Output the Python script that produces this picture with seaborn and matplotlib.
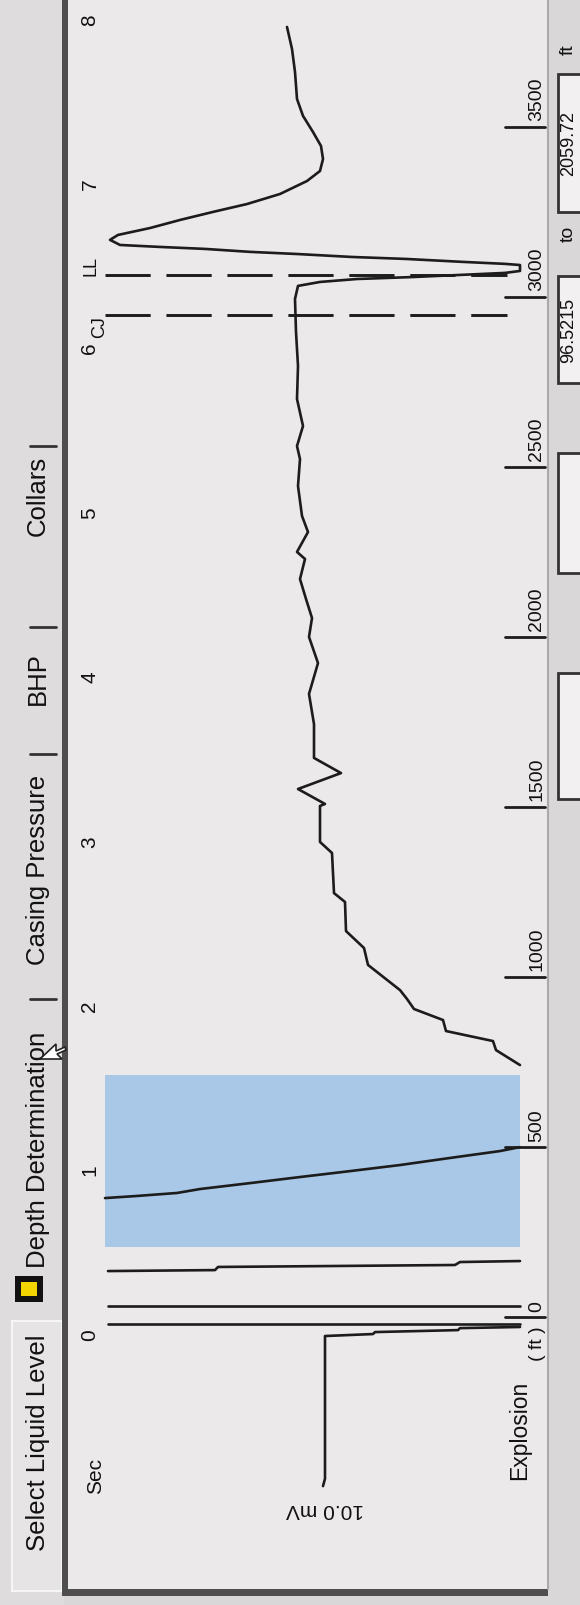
import pandas as pd
import matplotlib.pyplot as plt
from matplotlib.patches import Rectangle, Polygon
import seaborn as sns

sns.set_theme(style="white")
plt.rcParams['font.family'] = ['Liberation Sans', 'DejaVu Sans']

# values: time in sec, signal in mV
sec_ticks = [0, 1, 2, 3, 4, 5, 6, 7, 8]
depth_ticks = [0, 500, 1000, 1500, 2000, 2500, 3000, 3500]
tab_names = ['Select Liquid Level', 'Depth Determination', 'Casing Pressure', 'BHP', 'Collars']

# explosion: saturated sweeps across the trace area
shot1_t = [0.06, 0.06]
shot1_mv = [9.6, -11.0]
shot2_t = [0.17, 0.17]
shot2_mv = [9.6, -11.0]
shot3_t = [0.383, 0.389, 0.408, 0.420, 0.438, 0.444]
shot3_mv = [9.6, 4.25, 4.1, -7.75, -8.0, -11.0]

# signal inside the selected window
drop_t = [0.827, 0.839, 0.858, 0.882, 0.918, 0.955, 0.991, 1.028, 1.071, 1.113, 1.137]
drop_mv = [9.75, 8.25, 6.15, 5.0, 2.5, 0.0, -2.5, -5.0, -7.5, -10.0, -11.0]

# echo trace up to the liquid level kick and after it
echo_t = [1.636, 1.727, 1.782, 1.843, 1.910, 1.977, 2.038, 2.092, 2.245, 2.348,
          2.451, 2.628, 2.682, 2.926, 2.993, 3.212, 3.224, 3.315, 3.412, 3.504,
          3.710, 3.893, 4.081, 4.240, 4.355, 4.471, 4.592, 4.714, 4.757, 4.878,
          4.976, 5.158, 5.322, 5.401, 5.523, 5.687, 5.888, 6.095, 6.296, 6.375,
          6.399, 6.417, 6.429, 6.454, 6.466, 6.502, 6.509, 6.521, 6.539, 6.551,
          6.569, 6.582, 6.600, 6.612, 6.624, 6.655, 6.685, 6.727, 6.776, 6.825,
          6.873, 6.934, 7.013, 7.074, 7.147, 7.226, 7.311, 7.409, 7.512, 7.676,
          7.816, 7.950]
echo_mv = [-11.0, -9.8, -9.65, -7.3, -7.15, -5.7, -5.35, -5.0, -3.4, -3.2,
           -2.3, -2.25, -1.7, -1.6, -1.0, -1.0, -1.25, 0.1, -2.05, -0.7,
           -0.7, -0.45, -0.9, -0.45, -0.6, -0.3, 0.0, -0.25, 0.15, -0.4,
           -0.1, 0.1, 0.0, 0.15, -0.15, 0.15, 0.1, 0.2, 0.25, 0.1,
           -1.0, -2.85, -5.65, -10.25, -11.0, -11.0, -10.25, -8.15, -5.3, -2.6,
           0.15, 2.5, 4.75, 7.0, 9.0, 9.5, 9.1, 7.5, 6.0, 4.35,
           2.65, 1.0, -0.35, -1.0, -1.15, -1.05, -0.65, -0.15, 0.15, 0.25,
           0.4, 0.65]

# 10 mV scale bar
bar_t = [-0.925, -0.88, -0.012, 0.0, 0.012, 0.024, 0.036, 0.043]
bar_mv = [-1.15, -1.25, -1.25, -3.65, -3.75, -7.9, -8.0, -11.0]

# selected window and collar / liquid level markers
window_t = [0.53, 1.575]
window_mv = [9.75, -11.0]
marker_t = [6.44, 6.20]
marker_names = ['LL', 'CJ']

parts = [(shot1_t, shot1_mv), (shot2_t, shot2_mv), (shot3_t, shot3_mv),
         (drop_t, drop_mv), (echo_t, echo_mv), (bar_t, bar_mv)]
trace = pd.concat([pd.DataFrame({'t': t, 'mv': v, 'seg': i})
                   for i, (t, v) in enumerate(parts)], ignore_index=True)


def depth_to_t(d):
    return d / 483.5 + 0.103


fig = plt.figure(figsize=(5.8, 16.06), dpi=100)

# screen chrome in pixel units
ui = fig.add_axes([0, 0, 1, 1])
ui.set_xlim(0, 580)
ui.set_ylim(1606, 0)
ui.axis('off')
ui.add_patch(Rectangle((0, 0), 580, 1606, fc='#d9d7d8', ec='none'))
ui.add_patch(Rectangle((0, 0), 64, 1606, fc='#dedcdd', ec='none'))
ui.add_patch(Rectangle((12, 1322), 50, 270, fc='#e6e4e5', ec='#f6f6f6', lw=1.5))
ui.add_patch(Rectangle((68, 0), 480, 1590, fc='#ece9ea', ec='none'))
ui.add_patch(Rectangle((62, 0), 6, 1597, fc='#4e4e4e', ec='none'))
ui.add_patch(Rectangle((62, 1590), 486, 7, fc='#4e4e4e', ec='none'))
ui.add_patch(Rectangle((15, 1277), 28, 26, fc='#111111', ec='none'))
ui.add_patch(Rectangle((21, 1283), 16, 14, fc='#f2d400', ec='none'))

tab_y = [1443, 1150, 870, 679, 496]
for name, y in zip(tab_names, tab_y):
    ui.text(38, y, name, rotation=90, ha='center', va='center', fontsize=18.5, color='#111111')
for y in [1000, 755, 628, 447]:
    ui.plot([30, 56], [y, y], color='#333333', lw=2)

# mouse pointer resting on the Depth Determination tab
tip_x, tip_y = 40, 1060
arrow = [(0, 0), (0, 22), (5, 17), (9, 26), (12, 25), (8, 16), (15, 16)]
ui.add_patch(Polygon([(tip_x + dy, tip_y - dx) for dx, dy in arrow],
                     closed=True, fc='white', ec='#222222', lw=1.2, zorder=5))

# right side read-out boxes
ui.plot([548, 548], [0, 1590], color='#aaaaaa', lw=1.5)
for y0, y1, txt in [(75, 213, '2059.72'), (277, 384, '96.5215'), (454, 574, ''), (674, 800, '')]:
    ui.add_patch(Rectangle((558, y0), 30, y1 - y0, fc='#f2f0f1', ec='#333333', lw=2))
    if txt:
        ui.text(569, (y0 + y1) / 2, txt, rotation=90, ha='center', va='center', fontsize=13, color='#111111')
ui.text(568, 50, 'ft', rotation=90, ha='center', va='center', fontsize=14, color='#111111')
ui.text(568, 234, 'to', rotation=90, ha='center', va='center', fontsize=14, color='#111111')

# chart: signal (mV) across, time (sec) along the screen
ax = fig.add_axes([0, 0, 1, 1])
ax.patch.set_alpha(0)
ax.set_xlim(15, -14)
ax.set_ylim(-1.648, 8.12)
ax.axis('off')

ax.fill_betweenx(window_t, window_mv[0], window_mv[1], color='#a9c7e7', lw=0, zorder=1)
ax.hlines(marker_t, 9.75, -10.35, colors='#1c1c1c', lw=2.1, linestyles=(0, (15.5, 5.4)), zorder=2)
sns.lineplot(data=trace, x='mv', y='t', units='seg', estimator=None, sort=False,
             color='#1c1c1c', lw=1.9, ax=ax, zorder=3)

ax.text(10.2, -0.86, 'Sec', rotation=90, ha='center', va='center', fontsize=15, color='#111111')
for s in sec_ticks:
    ax.text(10.5, s, str(s), rotation=90, ha='center', va='center', fontsize=15, color='#111111')

for d in depth_ticks:
    t = depth_to_t(d)
    ax.plot([-10.25, -12.25], [t, t], color='#1c1c1c', lw=2)
    ax.text(-11.85, t + 0.04, str(d), rotation=90, ha='center', va='bottom', fontsize=14, color='#111111')
ax.text(-11.85, -0.05, '( ft )', rotation=90, ha='center', va='center', fontsize=14, color='#111111')
ax.text(-11.0, -0.58, 'Explosion', rotation=90, ha='center', va='center', fontsize=16.5, color='#111111')
ax.text(-1.25, -1.06, '10.0 mV', rotation=180, ha='center', va='center', fontsize=15, color='#111111')

ax.text(10.45, marker_t[0], marker_names[0], rotation=90, ha='center', va='bottom', fontsize=13, color='#111111')
ax.text(10.0, marker_t[1], marker_names[1], rotation=90, ha='center', va='top', fontsize=13, color='#111111')

fig.savefig('out.png', dpi=100)
